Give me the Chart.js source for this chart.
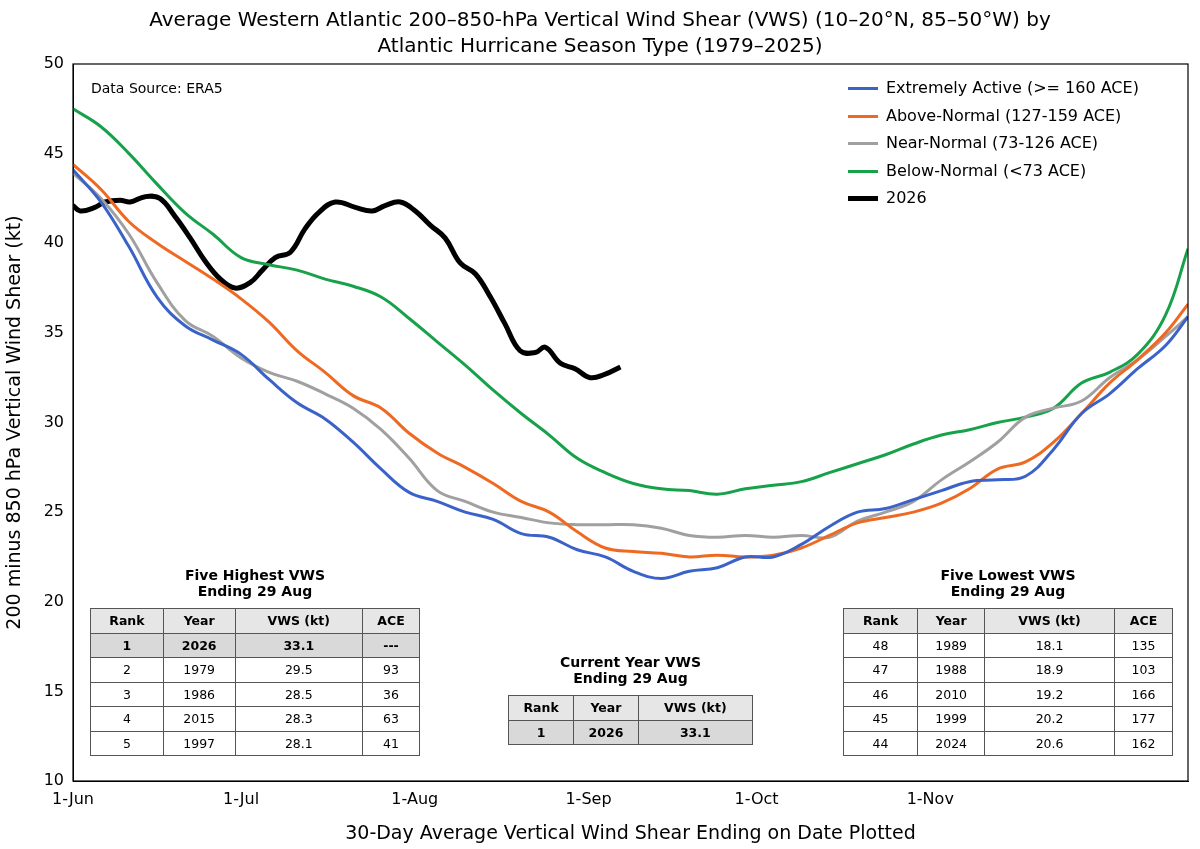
<!DOCTYPE html>
<html><head><meta charset="utf-8">
<script src="https://cdn.jsdelivr.net/npm/chart.js@4"></script>
<style>
body{margin:0;font-family:"DejaVu Sans",sans-serif;background:#fff}
#wrap{position:relative;width:1200px;height:849px;overflow:hidden}
#title{position:absolute;top:6px;left:0;width:1200px;text-align:center;font-size:20px;line-height:26px;color:#000}
.ov{position:absolute;font-size:14px;color:#000}
table{border-collapse:collapse;font-size:12.5px;text-align:center}
td{border:1px solid #555;height:23.5px;padding:0}
tr.h td{background:#e6e6e6;font-weight:bold}
tr.s td{background:#d9d9d9;font-weight:bold}
.tt{font-weight:bold;text-align:center;font-size:14px;line-height:16px;position:absolute}
#legend{position:absolute;left:848px;top:74px;font-size:16px;line-height:27.5px}
#legend span.l{display:inline-block;width:30px;height:0;vertical-align:middle;margin-right:8px}
</style></head><body>
<div id="wrap">
<canvas id="c" width="1200" height="849"></canvas>
<div id="title">Average Western Atlantic 200–850-hPa Vertical Wind Shear (VWS) (10–20°N, 85–50°W) by<br>Atlantic Hurricane Season Type (1979–2025)</div>
<div class="ov" style="left:91px;top:80px">Data Source: ERA5</div>
<div id="legend"></div>
<div id="tables"></div>
</div>
<script>
const tickDays=[0,30,61,92,122,153];
const tickLabels=['1-Jun','1-Jul','1-Aug','1-Sep','1-Oct','1-Nov'];
const seasonDays=[0,5,10,15,20,25,30,35,40,45,50,55,60,65,70,75,80,85,90,95,100,105,110,115,120,125,130,135,140,145,150,155,160,165,170,175,180,185,190,195,199];
const extremelyActive=[44.1,42.3,39.8,37,35.4,34.6,33.8,32.4,31.1,30.2,28.9,27.4,26.1,25.6,25.0,24.6,23.8,23.6,22.9,22.5,21.7,21.3,21.7,21.9,22.5,22.5,23.2,24.2,25.0,25.2,25.7,26.2,26.7,26.8,27.0,28.5,30.5,31.6,33.0,34.3,35.9];
const aboveNormal=[44.4,43.0,41.2,40.0,39.0,38.0,36.9,35.6,34.0,32.8,31.5,30.8,29.4,28.3,27.5,26.6,25.6,25.0,23.9,23.0,22.8,22.7,22.5,22.6,22.5,22.6,23.0,23.7,24.4,24.7,25.0,25.5,26.3,27.4,27.8,28.9,30.5,32.2,33.5,35.0,36.6];
const nearNormal=[43.9,42.5,40.5,37.8,35.7,34.8,33.6,32.8,32.3,31.6,30.8,29.6,28.0,26.2,25.6,25.0,24.7,24.4,24.3,24.3,24.3,24.1,23.7,23.6,23.7,23.6,23.7,23.6,24.5,25.0,25.6,26.8,27.8,28.9,30.3,30.8,31.2,32.5,33.5,34.8,35.9];
const belowNormal=[47.5,46.5,45.0,43.3,41.7,40.5,39.2,38.8,38.5,38.0,37.6,37.0,35.8,34.5,33.2,31.8,30.5,29.3,28.0,27.2,26.6,26.3,26.2,26.0,26.3,26.5,26.7,27.2,27.7,28.2,28.8,29.3,29.6,30.0,30.3,30.8,32.2,32.8,33.8,36.0,39.7];
const days2026=[0,1.3,3.9,5.7,8.4,10.2,12.9,15.5,18.2,20.9,23.6,26.3,28.9,31.6,33.8,36.1,38.8,41.4,43.8,46.8,50.4,53.4,55.7,58.4,61.1,63.8,66.4,69.1,71.8,74.5,77.1,79.8,82.5,84.3,87.0,89.6,92.3,95.0,97.7];
const vws2026=[42.1,41.8,42.0,42.3,42.4,42.3,42.6,42.5,41.5,40.3,39.0,38.0,37.5,37.8,38.5,39.2,39.5,40.8,41.7,42.3,42.0,41.8,42.1,42.3,41.8,41.0,40.3,38.9,38.3,37.0,35.5,34.0,33.9,34.2,33.3,33.0,32.5,32.7,33.1];
const tableHeader=['Rank','Year','VWS (kt)','ACE'];
const highest=[['1','2026','33.1','---'],['2','1979','29.5','93'],['3','1986','28.5','36'],['4','2015','28.3','63'],['5','1997','28.1','41']];
const lowest=[['48','1989','18.1','135'],['47','1988','18.9','103'],['46','2010','19.2','166'],['45','1999','20.2','177'],['44','2024','20.6','162']];
const current=[['1','2026','33.1']];

const mk=(d,v)=>d.map((x,i)=>({x,y:v[i]}));
const series=[
 {label:'Extremely Active (>= 160 ACE)',data:mk(seasonDays,extremelyActive),borderColor:'#3a62c8',borderWidth:3},
 {label:'Above-Normal (127-159 ACE)',data:mk(seasonDays,aboveNormal),borderColor:'#ee6a22',borderWidth:3},
 {label:'Near-Normal (73-126 ACE)',data:mk(seasonDays,nearNormal),borderColor:'#a0a0a0',borderWidth:3},
 {label:'Below-Normal (<73 ACE)',data:mk(seasonDays,belowNormal),borderColor:'#16a14a',borderWidth:3},
 {label:'2026',data:mk(days2026,vws2026),borderColor:'#000',borderWidth:5}
];
series.forEach(s=>{s.pointRadius=0;s.tension=0.4;s.fill=false;});

document.getElementById('legend').innerHTML=series.map(s=>`<div><span class="l" style="border-top:${s.borderWidth}px solid ${s.borderColor}"></span>${s.label.replace(/</g,'&lt;')}</div>`).join('');

function tbl(rows,hdr,special){
 let h='<table><tr class="h">'+hdr.map(c=>`<td>${c}</td>`).join('')+'</tr>';
 rows.forEach((r,i)=>{h+=`<tr${special&&i==0?' class="s"':''}>`+r.map(c=>`<td>${c}</td>`).join('')+'</tr>';});
 return h+'</table>';
}
function place(left,top,w,title,rows,hdr,special){
 return `<div class="tt" style="left:${left}px;top:${top-41}px;width:${w}px">${title}</div><div class="ov" style="left:${left}px;top:${top}px;width:${w}px">${tbl(rows,hdr,special).replace('<table>',`<table style="width:${w}px">`)}</div>`;
}
document.getElementById('tables').innerHTML=
 place(90,608,330,'Five Highest VWS<br>Ending 29 Aug',highest,tableHeader,true)+
 place(843,608,330,'Five Lowest VWS<br>Ending 29 Aug',lowest,tableHeader,false)+
 place(508,695,245,'Current Year VWS<br>Ending 29 Aug',current,tableHeader.slice(0,3),true);

const frame={id:'frame',afterDraw(c){const a=c.chartArea,x=c.ctx;x.save();x.strokeStyle='#000';x.lineWidth=1.2;x.strokeRect(a.left,a.top,a.right-a.left,a.bottom-a.top);x.restore();}};
Chart.defaults.font.family='"DejaVu Sans",sans-serif';
Chart.defaults.color='#000';
new Chart(document.getElementById('c'),{
 type:'line',data:{datasets:series},plugins:[frame],
 options:{responsive:false,animation:false,
  layout:{padding:{top:64,right:12,left:0,bottom:0}},
  plugins:{legend:{display:false},tooltip:{enabled:false}},
  scales:{
   x:{type:'linear',min:0,max:199,grid:{display:false,drawTicks:true,tickLength:6,tickColor:'#000'},border:{color:'#000'},
    afterBuildTicks:s=>{s.ticks=tickDays.map(v=>({value:v}));},
    afterFit:s=>{s.height=68;},
    ticks:{font:{size:16},maxRotation:0,autoSkip:false,callback:v=>tickLabels[tickDays.indexOf(v)]},
    title:{display:true,text:'30-Day Average Vertical Wind Shear Ending on Date Plotted',font:{size:19},padding:{top:0}}},
   y:{min:10,max:50,grid:{display:false,tickLength:6,tickColor:'#000'},border:{color:'#000'},
    afterFit:s=>{s.width=73;},
    ticks:{stepSize:5,font:{size:16}},
    title:{display:true,text:'200 minus 850 hPa Vertical Wind Shear (kt)',font:{size:19},padding:{bottom:2}}}
  }}
});
</script>
</body></html>
